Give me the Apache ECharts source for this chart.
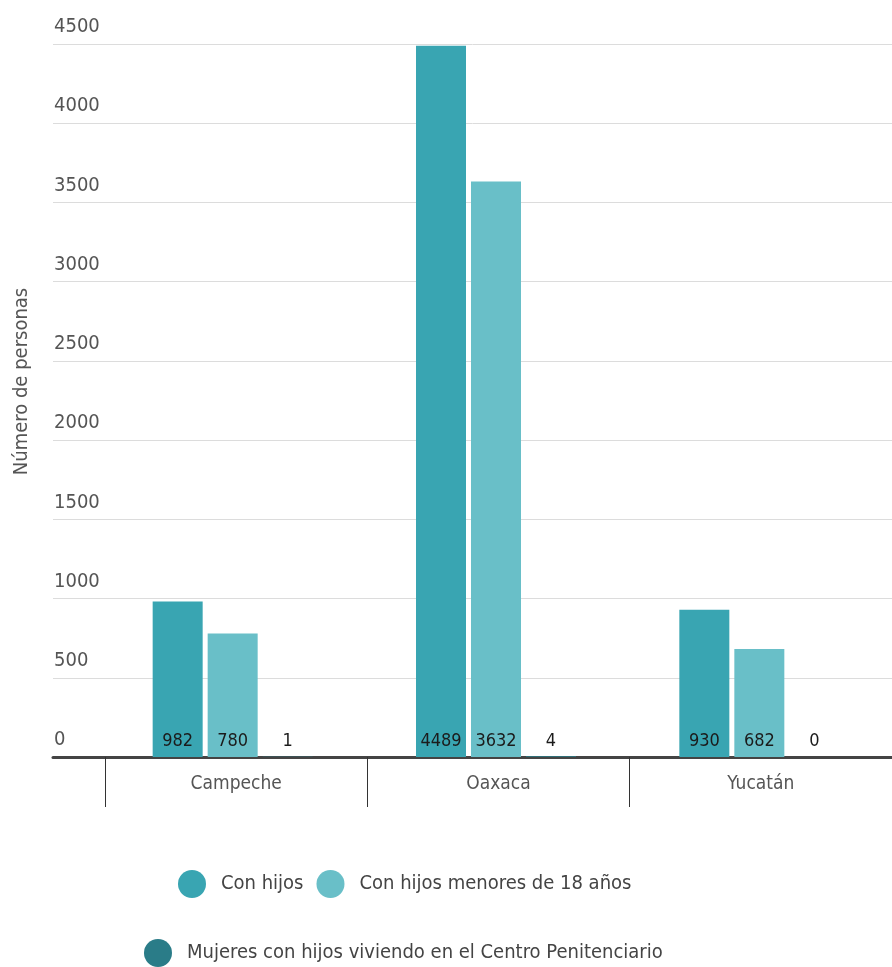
<!DOCTYPE html>
<html><head><meta charset="utf-8">
<script src="https://cdn.jsdelivr.net/npm/echarts@6/dist/echarts.min.js"></script>
<style>html,body{margin:0;padding:0;background:#fff}#c{width:892px;height:967px}</style>
</head><body><div id="c"></div>
<script>
const categories = ['Campeche', 'Oaxaca', 'Yucatán'];
const conHijos = [982, 4489, 930];
const conHijosMenores = [780, 3632, 682];
const mujeresCentro = [1, 4, 0];
const seriesNames = ['Con hijos', 'Con hijos menores de 18 años', 'Mujeres con hijos viviendo en el Centro Penitenciario'];
const yMin = 0, yMax = 4500, yStep = 500;

const FONT = '"Liberation Sans Narrow", "DejaVu Sans Condensed", "Roboto", sans-serif';
const colors = ['#39a5b2', '#69bfc8', '#2a7c88'];

const chart = echarts.init(document.getElementById('c'), null, {renderer: 'canvas'});
const label = {show: true, position: 'insideBottom', distance: 7, color: '#1b1b1b', fontSize: 18, fontFamily: FONT};
chart.setOption({
  animation: false,
  color: colors,
  textStyle: {fontFamily: FONT},
  grid: [
    {left: 53, right: 0, top: 44, bottom: 210},
    {left: 101, right: 1, top: 44, bottom: 210},
    {left: 105, right: -3, top: 44, bottom: 210}
  ],
  xAxis: [
    {gridIndex: 0, type: 'value', min: 0, max: 1, show: true,
     axisLine: {show: true, onZero: false, lineStyle: {color: '#444', width: 3}},
     axisTick: {show: false}, axisLabel: {show: false}, splitLine: {show: false}},
    {gridIndex: 1, type: 'category', data: categories, show: false},
    {gridIndex: 2, type: 'category', data: categories,
     axisLine: {show: false},
     axisTick: {show: true, length: 50, lineStyle: {color: '#333', width: 1}},
     axisLabel: {color: '#555', fontSize: 19, margin: 18, fontFamily: FONT},
     splitLine: {show: false}}
  ],
  yAxis: [
    {gridIndex: 0, type: 'value', min: yMin, max: yMax, interval: yStep,
     name: 'Número de personas', nameLocation: 'middle', nameGap: 21, nameRotate: 90,
     nameTextStyle: {color: '#555', fontSize: 20, fontFamily: FONT, padding: [0, 0, 0, 38]},
     axisLine: {show: false}, axisTick: {show: false},
     axisLabel: {inside: true, margin: 1, verticalAlign: 'bottom', padding: [0, 0, 7, 0], color: '#555', fontSize: 20, fontFamily: FONT,
       formatter: v => String(v)},
     splitLine: {lineStyle: {color: '#dcdcdc', width: 1}}},
    {gridIndex: 1, type: 'value', min: yMin, max: yMax, interval: yStep, show: false},
    {gridIndex: 2, type: 'value', min: yMin, max: yMax, interval: yStep, show: false}
  ],
  legend: [
    {data: [seriesNames[0], seriesNames[1]], top: 865, left: 173, icon: 'circle', itemWidth: 28, itemHeight: 28, itemGap: 13,
     textStyle: {color: '#444', fontSize: 20, fontFamily: FONT, padding: [0, 0, 0, 10]}},
    {data: [seriesNames[2]], top: 934, left: 139, icon: 'circle', itemWidth: 28, itemHeight: 28,
     textStyle: {color: '#444', fontSize: 20, fontFamily: FONT, padding: [0, 0, 0, 10]}}
  ],
  series: [
    {name: seriesNames[0], type: 'bar', xAxisIndex: 1, yAxisIndex: 1, data: conHijos, barWidth: 50, barGap: '10%', label: label},
    {name: seriesNames[1], type: 'bar', xAxisIndex: 1, yAxisIndex: 1, data: conHijosMenores, barWidth: 50, barGap: '10%', label: label},
    {name: seriesNames[2], type: 'bar', xAxisIndex: 1, yAxisIndex: 1, data: mujeresCentro, barWidth: 50, barGap: '10%', label: label}
  ]
});
</script></body></html>
